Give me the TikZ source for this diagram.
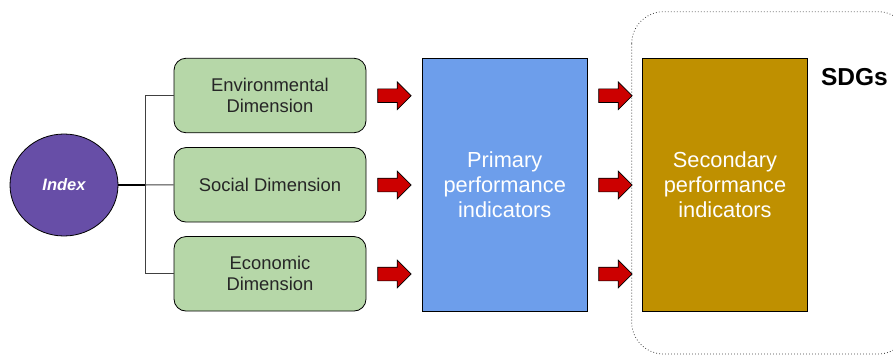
\documentclass[tikz,border=0pt]{standalone}
\usepackage{fontspec}
\setmainfont{Liberation Sans}
\usetikzlibrary{shapes.arrows,shapes.geometric}
\definecolor{idxpurple}{HTML}{674EA7}
\definecolor{dimgreen}{HTML}{B6D7A8}
\definecolor{primblue}{HTML}{6D9EEB}
\definecolor{secgold}{HTML}{BF9000}
\definecolor{arrred}{HTML}{CC0000}
\definecolor{linegray}{HTML}{404040}
\tikzset{
  dimbox/.style={draw=black, line width=0.8pt, fill=dimgreen, rounded corners=12pt,
    minimum width=192pt, minimum height=74.5pt, align=center, text=black!85,
    font=\fontsize{18.4}{21.2}\selectfont},
  indbox/.style={draw=black, line width=0.8pt, minimum width=164.7pt, minimum height=252.7pt,
    align=center, text=white, font=\fontsize{21.8}{25}\selectfont},
  redarrow/.style={single arrow, draw=black, line width=0.7pt, fill=arrred,
    minimum height=33.4pt, inner xsep=0pt, inner ysep=6.5pt,
    single arrow head extend=7pt, single arrow tip angle=90, anchor=tail},
  busline/.style={draw=linegray, line width=1pt},
}
\begin{document}
\begin{tikzpicture}[x=1pt,y=-1pt]
\useasboundingbox (0,0) rectangle (893,356);
\clip (0,0) rectangle (893,356);
% dotted SDG group
\draw[draw=black!75, line width=0.8pt, dash pattern=on 0.8pt off 2.2pt, rounded corners=32pt] (631.7,11.7) rectangle (910,354);
\node[font=\bfseries\fontsize{24.5}{26}\selectfont, text=black] (sdg) at (854.5,77) {SDGs};
% index
\node[ellipse, draw=black, line width=0.8pt, fill=idxpurple, minimum width=108pt, minimum height=102pt,
  inner sep=0pt, text=white, font=\bfseries\itshape\fontsize{16.5}{18}\selectfont] (idx) at (64,185) {Index};
% dimensions
\node[dimbox] (env) at (270,95.5) {Environmental\\Dimension};
\node[dimbox] (soc) at (270,184.8) {Social Dimension};
\node[dimbox] (eco) at (270,273.8) {Economic\\Dimension};
% bus
\coordinate (bus) at (145.7,185);
\draw[draw=black, line width=1.5pt] (idx.east) -- (bus);
\draw[busline] (env.west) -| (bus);
\draw[busline] (eco.west) -| (bus);
\draw[busline] (bus) -- (soc.west);
% indicators
\node[indbox, fill=primblue] (prim) at (504.7,184.7) {Primary\\performance\\indicators};
\node[indbox, fill=secgold] (sec) at (725,185) {Secondary\\performance\\indicators};
% arrows
\node[redarrow] (a1) at (377.3,95.7) {};
\node[redarrow] (a2) at (377.3,185) {};
\node[redarrow] (a3) at (377.3,274) {};
\node[redarrow] (b1) at (598.3,95.7) {};
\node[redarrow] (b2) at (598.3,185) {};
\node[redarrow] (b3) at (598.3,274) {};
\end{tikzpicture}
\end{document}
